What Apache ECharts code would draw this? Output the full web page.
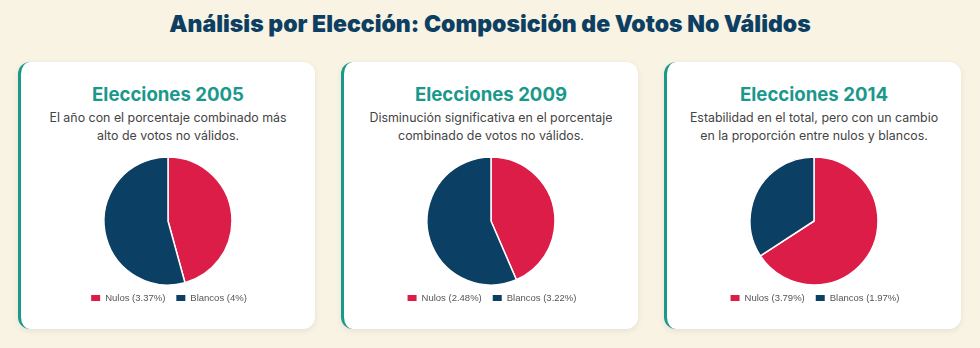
<!DOCTYPE html>
<html>
<head>
<meta charset="utf-8">
<script src="https://cdn.jsdelivr.net/npm/echarts@6/dist/echarts.min.js"></script>
<style>
  html, body { margin: 0; padding: 0; }
  body {
    width: 980px; height: 348px; overflow: hidden;
    background: #f8f3e3;
    font-family: Inter, "Noto Sans", sans-serif;
  }
  .main-title {
    position: absolute; left: 0; top: 8px; width: 980px;
    text-align: center; margin: 0;
    font-family: Inter, sans-serif;
    font-weight: 900; font-size: 23px; line-height: 32px;
    color: #0d3f63; letter-spacing: 0;
  }
  .card {
    position: absolute; top: 62px; width: 297px; height: 267px;
    box-sizing: border-box;
    background: #fff; border-radius: 12px;
    border-left: 3px solid #1a988c;
    box-shadow: 0 2px 6px rgba(0,0,0,0.08);
  }
  .card h3 {
    margin: 0; position: absolute; top: 20px; left: 0; right: 0;
    text-align: center; font-size: 18.6px; line-height: 24px;
    font-weight: 700; color: #1a988c;
  }
  .card p {
    margin: 0; position: absolute; top: 47px; left: 20px; right: 20px;
    text-align: center; font-size: 12.4px; line-height: 18px; color: #444;
  }
  .card .main-content {
    position: absolute; left: 0; right: 0; top: 88px; height: 179px;
  }
</style>
</head>
<body>
<h1 class="main-title">Análisis por Elección: Composición de Votos No Válidos</h1>
<div id="cards"></div>
<script>
const years = ['2005', '2009', '2014']
const notes = [
  'El año con el porcentaje combinado más alto de votos no válidos.',
  'Disminución significativa en el porcentaje combinado de votos no válidos.',
  'Estabilidad en el total, pero con un cambio en la proporción entre nulos y blancos.'
]
const nulos = [3.37, 2.48, 3.79]
const blancos = [4, 3.22, 1.97]
const colors = ['#dc1d48', '#0b3f63']

const cardsEl = document.getElementById('cards')
years.forEach((year, i) => {
  const card = document.createElement('div')
  card.className = 'card'
  card.style.left = (18 + i * 323) + 'px'
  card.innerHTML = '<h3>Elecciones ' + year + '</h3><p>' + notes[i] + '</p><div class="main-content"></div>'
  cardsEl.appendChild(card)

  const chart = echarts.init(card.querySelector('.main-content'))
  const nName = 'Nulos (' + nulos[i] + '%)'
  const bName = 'Blancos (' + blancos[i] + '%)'
  chart.setOption({
    color: colors,
    animation: false,
    legend: {
      bottom: 21,
      left: 'center',
      itemWidth: 11,
      itemHeight: 8,
      itemGap: 9,
      icon: 'rect',
      textStyle: { color: '#555', fontSize: 9.5, fontFamily: '"Liberation Sans", Arial, sans-serif', padding: [0, 0, 0, -1] },
      data: [nName, bName]
    },
    series: [
      {
        type: 'pie',
        radius: 64,
        center: ['50%', 71],
        startAngle: 90,
        clockwise: true,
        label: { show: false },
        labelLine: { show: false },
        itemStyle: { borderColor: '#fff', borderWidth: 1.5 },
        emphasis: { disabled: true },
        data: [
          { name: nName, value: nulos[i] },
          { name: bName, value: blancos[i] }
        ]
      }
    ]
  })
})
</script>
</body>
</html>
